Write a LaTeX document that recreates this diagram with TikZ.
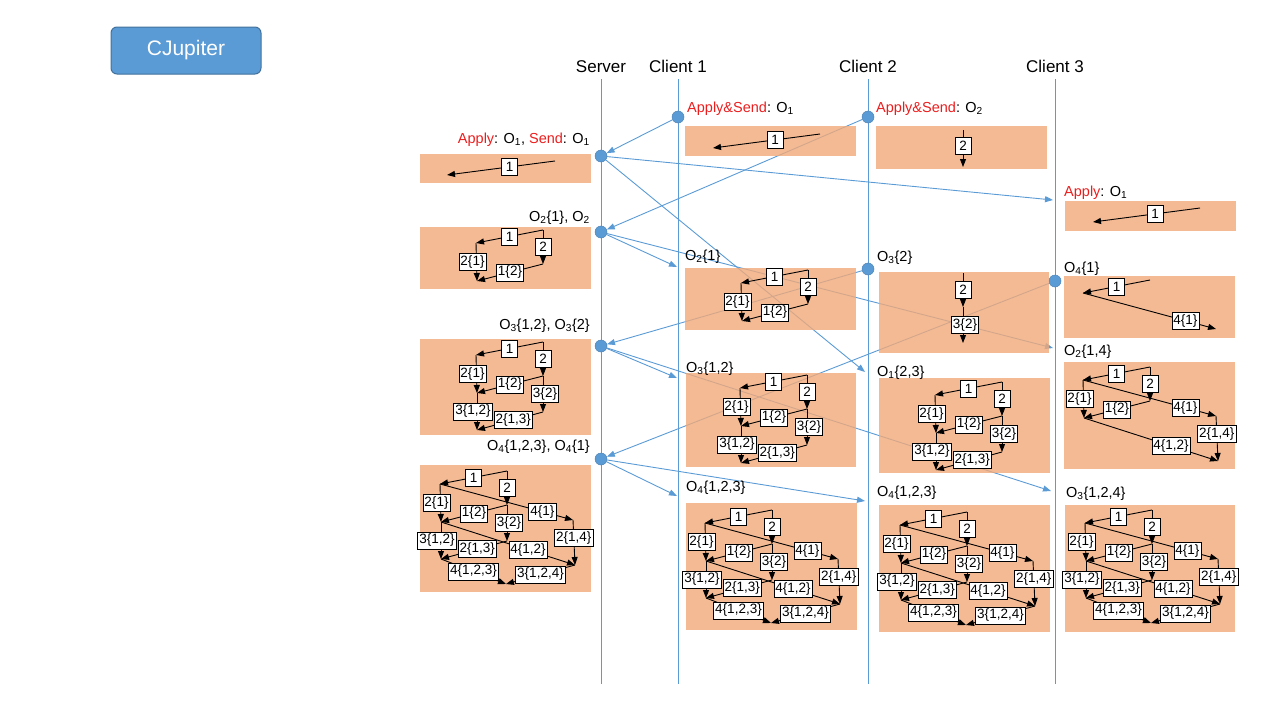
\documentclass[tikz,border=0pt]{standalone}
\usepackage{fontspec}
\setmainfont{Liberation Sans}
\usetikzlibrary{arrows.meta}
\definecolor{lineblue}{RGB}{91,155,213}
\definecolor{boxorange}{RGB}{241,169,121}
\definecolor{btnborder}{RGB}{65,113,156}
\definecolor{annred}{RGB}{235,30,30}
\tikzset{
 lifeline/.style={draw=lineblue, line width=0.9pt},
 msg/.style={draw=lineblue, line width=0.9pt, -{Triangle[length=8pt,width=6pt]}},
 evdot/.style={circle, fill=lineblue, draw=lineblue!85!black, line width=0.5pt, minimum size=12pt, inner sep=0pt},
 statebox/.style={fill=boxorange, fill opacity=0.8},
 edgeline/.style={draw=black, line width=0.9pt, -{Triangle[length=8pt,width=6pt]}},
 elabel/.style={draw=black, fill=white, line width=0.8pt, font=\fontsize{13.5}{15}\selectfont, inner xsep=1.5pt, inner ysep=1pt, minimum height=17pt, minimum width=16pt},
 ann/.style={font=\fontsize{14.5}{16}\selectfont, inner sep=0pt},
 header/.style={font=\fontsize{17}{19}\selectfont, inner sep=0pt},
 btn/.style={rounded corners=6pt, fill=lineblue, draw=btnborder, line width=1pt, minimum width=150pt, minimum height=47pt, text=white, font=\fontsize{21}{24}\selectfont},
}
\newcommand\E[5][]{\draw[edgeline] (#2) -- (#3) node[elabel,pos=#5,#1] (#2#3) {#4};}
\newcommand\verts{%
 \coordinate (v0) at (0,0);
 \coordinate (v1) at (-67,13);
 \coordinate (v2) at (0,34);
 \coordinate (v3) at (-66,51);
 \coordinate (v4) at (66,49);
 \coordinate (v5) at (0,70);
 \coordinate (v6) at (-66,88);
 \coordinate (v7) at (68,94);
 \coordinate (v8) at (-1,113);}
\newcommand\stA{\E{v0}{v1}{1}{0.5}}
\newcommand\stB{\E{v0}{v2}{2}{0.5}}
\newcommand\stC{\E[xshift=-4pt]{v1}{v3}{2\{1\}}{0.5}}
\newcommand\stD{\E{v2}{v3}{1\{2\}}{0.5}}
\newcommand\stF{\E{v1}{v4}{4\{1\}}{0.77}}
\newcommand\stG{\E[xshift=2pt]{v2}{v5}{3\{2\}}{0.5}}
\newcommand\stH{\E[xshift=-4pt]{v3}{v6}{3\{1,2\}}{0.5}}
\newcommand\stI{\E{v5}{v6}{2\{1,3\}}{0.45}}
\newcommand\stJ{\E{v3}{v7}{4\{1,2\}}{0.65}}
\newcommand\stK{\E{v4}{v7}{2\{1,4\}}{0.4}}
\newcommand\stL{\E{v6}{v8}{4\{1,2,3\}}{0.5}}
\newcommand\stM{\E{v7}{v8}{3\{1,2,4\}}{0.5}}
\newcommand\stAll{\stA\stB\stC\stD\stF\stG\stH\stI\stJ\stK\stL\stM}
\newcommand\sub[1]{\textsubscript{#1}}
\begin{document}
\begin{tikzpicture}[x=1pt,y=-1pt]
\useasboundingbox (0,0) rectangle (1280,720);
\node[btn] (cj) at (186,50.5) {CJupiter};
% headers
\node[header, anchor=base] (hs) at (601,72.5) {Server};
\node[header, anchor=base] (h1) at (678,72.5) {Client 1};
\node[header, anchor=base] (h2) at (868,72.5) {Client 2};
\node[header, anchor=base] (h3) at (1055,72) {Client 3};
% lifelines
\foreach \n/\x in {s/601, a/678, b/868, c/1055}{
  \coordinate (\n-top) at (\x,79); \coordinate (\n-bot) at (\x,684);
  \draw[lifeline] (\n-top) -- (\n-bot);}
% event dots
\node[evdot] (s1) at (601,156) {};
\node[evdot] (s2) at (601,232) {};
\node[evdot] (s3) at (601,346) {};
\node[evdot] (s4) at (601,459) {};
\node[evdot] (a1) at (678,117) {};
\node[evdot] (b1) at (868,117) {};
\node[evdot] (b2) at (868,269) {};
\node[evdot] (c1) at (1055,281) {};
% free ends
\coordinate (c-in1) at (1053,200);
\coordinate (b-in1) at (865,372);
\coordinate (a-in2) at (677,267);
\coordinate (c-in2) at (1053,348);
\coordinate (a-in3) at (677,378);
\coordinate (c-in3) at (1051,491);
\coordinate (a-in4) at (677,496);
\coordinate (b-in4) at (865,501);
% messages
\draw[msg] (a1) -- (s1);
\draw[msg] (b1) -- (s2);
\draw[msg] (s1) -- (c-in1);
\draw[msg] (s1) -- (b-in1);
\draw[msg] (s2) -- (a-in2);
\draw[msg] (s2) -- (c-in2);
\draw[msg] (b2) -- (s3);
\draw[msg] (s3) -- (a-in3);
\draw[msg] (s3) -- (c-in3);
\draw[msg] (c1) -- (s4);
\draw[msg] (s4) -- (a-in4);
\draw[msg] (s4) -- (b-in4);
% state boxes
\path[statebox] (420,154) rectangle (591,183);
\path[statebox] (420,227) rectangle (591,289);
\path[statebox] (420,339) rectangle (591,435);
\path[statebox] (420,465) rectangle (591,592);
\path[statebox] (685,126) rectangle (856,156);
\path[statebox] (685,268) rectangle (856,330);
\path[statebox] (686,373) rectangle (856,467);
\path[statebox] (686,503) rectangle (857,630);
\path[statebox] (876,126) rectangle (1047,169);
\path[statebox] (879,272) rectangle (1049,353);
\path[statebox] (879,378) rectangle (1050,473);
\path[statebox] (879,505) rectangle (1050,632);
\path[statebox] (1065,201) rectangle (1236,231);
\path[statebox] (1064,276) rectangle (1235,338);
\path[statebox] (1064,362) rectangle (1235,469);
\path[statebox] (1065,505) rectangle (1235,632);
% annotations
\node[ann, anchor=base east] (t-s1) at (590,143) {\textcolor{annred}{Apply}: O\sub{1}, \textcolor{annred}{Send}: O\sub{1}};
\node[ann, anchor=base east] (t-s2) at (590,221) {O\sub{2}\{1\}, O\sub{2}};
\node[ann, anchor=base east] (t-s3) at (590,329) {O\sub{3}\{1,2\}, O\sub{3}\{2\}};
\node[ann, anchor=base east] (t-s4) at (590,450) {O\sub{4}\{1,2,3\}, O\sub{4}\{1\}};
\node[ann, anchor=base west] (t-a1) at (687,112) {\textcolor{annred}{Apply\&Send}: O\sub{1}};
\node[ann, anchor=base west] (t-a2) at (685,260) {O\sub{2}\{1\}};
\node[ann, anchor=base west] (t-a3) at (686,372) {O\sub{3}\{1,2\}};
\node[ann, anchor=base west] (t-a4) at (686,491) {O\sub{4}\{1,2,3\}};
\node[ann, anchor=base west] (t-b1) at (876,112) {\textcolor{annred}{Apply\&Send}: O\sub{2}};
\node[ann, anchor=base west] (t-b2) at (877,261) {O\sub{3}\{2\}};
\node[ann, anchor=base west] (t-b3) at (877,376) {O\sub{1}\{2,3\}};
\node[ann, anchor=base west] (t-b4) at (877,496) {O\sub{4}\{1,2,3\}};
\node[ann, anchor=base west] (t-c1) at (1064,196) {\textcolor{annred}{Apply}: O\sub{1}};
\node[ann, anchor=base west] (t-c2) at (1064,272) {O\sub{4}\{1\}};
\node[ann, anchor=base west] (t-c3) at (1064,355) {O\sub{2}\{1,4\}};
\node[ann, anchor=base west] (t-c4) at (1066,497) {O\sub{3}\{1,2,4\}};
% single-edge graphs
\begin{scope}[shift={(555,161)}, name prefix=S1-]
 \coordinate (u0) at (0,0); \coordinate (u1) at (-108,14);
 \E{u0}{u1}{1}{0.42}
\end{scope}
\begin{scope}[shift={(820,134)}, name prefix=A1-]
 \coordinate (u0) at (0,0); \coordinate (u1) at (-107,14);
 \E{u0}{u1}{1}{0.42}
\end{scope}
\begin{scope}[shift={(1200,208)}, name prefix=C1-]
 \coordinate (u0) at (0,0); \coordinate (u1) at (-107,14);
 \E{u0}{u1}{1}{0.42}
\end{scope}
\begin{scope}[shift={(963,130)}, name prefix=B1-]
 \coordinate (u0) at (0,0); \coordinate (u1) at (0,37);
 \E{u0}{u1}{2}{0.42}
\end{scope}
% multi-edge graphs
\begin{scope}[shift={(543,230)}, name prefix=S2-] \verts \stA\stB\stC\stD \end{scope}
\begin{scope}[shift={(543,342)}, name prefix=S3-] \verts \stA\stB\stC\stD\stG\stH\stI \end{scope}
\begin{scope}[shift={(507,471)}, name prefix=S4-] \verts \stAll \end{scope}
\begin{scope}[shift={(808,270)}, name prefix=A2-] \verts \stA\stB\stC\stD \end{scope}
\begin{scope}[shift={(807,375)}, name prefix=A3-] \verts \stA\stB\stC\stD\stG\stH\stI \end{scope}
\begin{scope}[shift={(772,510)}, name prefix=A4-] \verts \stAll \end{scope}
\begin{scope}[shift={(963,273)}, name prefix=B2-] \verts \stB\stG \end{scope}
\begin{scope}[shift={(1002,382)}, name prefix=B3-] \verts \stA\stB\stC\stD\stG\stH\stI \end{scope}
\begin{scope}[shift={(967,512)}, name prefix=B4-] \verts \stAll \end{scope}
\begin{scope}[shift={(1150,280)}, name prefix=C2-] \verts \stA\stF \end{scope}
\begin{scope}[shift={(1150,367)}, name prefix=C3-] \verts \stA\stB\stC\stD\stF\stJ\stK \end{scope}
\begin{scope}[shift={(1152,510)}, name prefix=C4-] \verts \stAll \end{scope}
\end{tikzpicture}
\end{document}
